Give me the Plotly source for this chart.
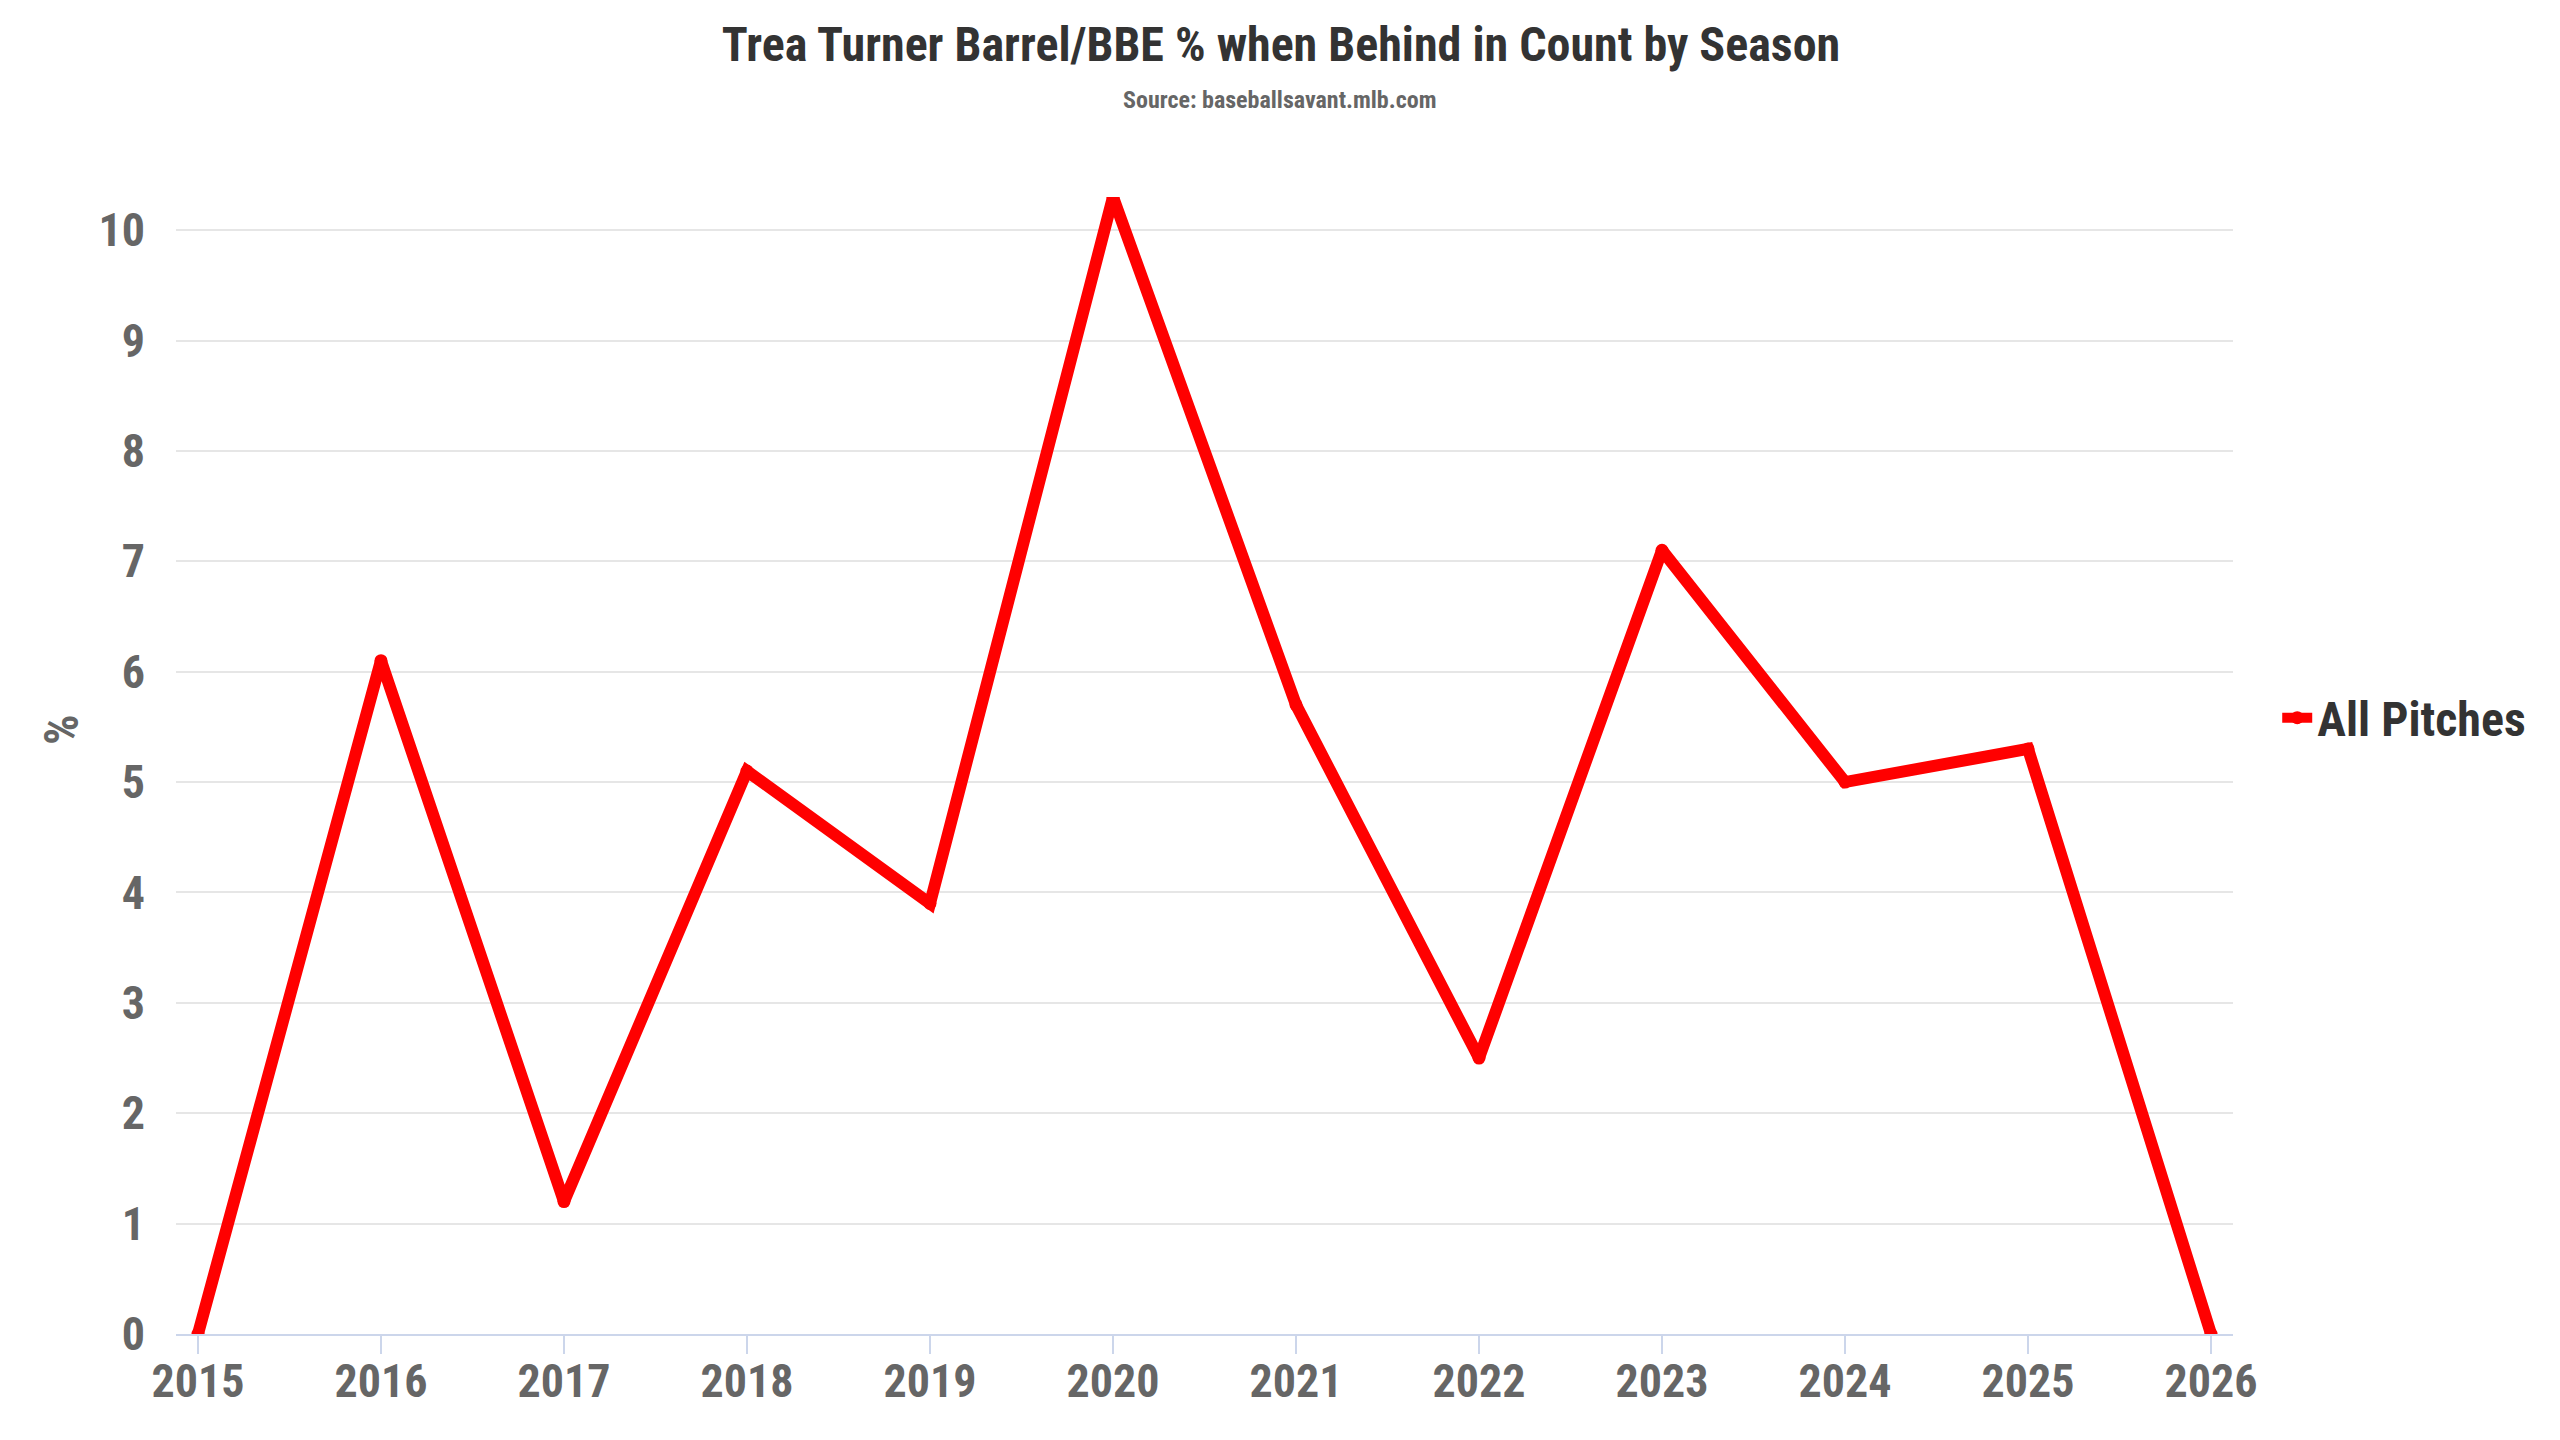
import plotly.graph_objects as go

seasons = [2015, 2016, 2017, 2018, 2019, 2020, 2021, 2022, 2023, 2024, 2025, 2026]
barrel_pct = [0, 6.1, 1.2, 5.1, 3.9, 10.3, 5.7, 2.5, 7.1, 5.0, 5.3, 0]
series_name = "All Pitches"
y_ticks = [0, 1, 2, 3, 4, 5, 6, 7, 8, 9, 10]

FONT = "Roboto Condensed, Liberation Sans Narrow, Roboto, sans-serif"

L, T, PW, PH = 168, 189, 2057, 1137
B = 1440 - T - PH
R = 2560 - L - PW
BOTTOM = T + PH

fig = go.Figure()
fig.add_trace(go.Scatter(
    x=seasons, y=barrel_pct, name=series_name, mode="lines+markers",
    line=dict(color="#ff0000", width=12),
    marker=dict(color="#ff0000", size=13),
))

fig.update_layout(
    width=2560, height=1440,
    paper_bgcolor="white", plot_bgcolor="white",
    margin=dict(l=L, r=R, t=T, b=B),
    font=dict(family=FONT, color="#666666"),
    title=dict(
        text="Trea Turner Barrel/BBE % when Behind in Count by Season",
        x=1273 / 2560, xref="container", xanchor="center",
        y=1 - 36 / 1440, yref="container", yanchor="middle",
        font=dict(family=FONT, size=48, color="#333333", weight="bold"),
    ),
    showlegend=True,
    legend=dict(
        x=1.0215, xanchor="left", y=(BOTTOM - 710) / PH, yanchor="middle",
        font=dict(family=FONT, size=48, color="#333333", weight="bold"),
        bgcolor="rgba(0,0,0,0)", itemwidth=30,
    ),
    xaxis=dict(
        range=[2014.88, 2026.12],
        tickmode="array", tickvals=seasons, ticktext=[str(s) for s in seasons],
        showgrid=False, zeroline=False,
        showline=True, linecolor="#ccd6eb", linewidth=2,
        ticks="outside", ticklen=18, tickwidth=2, tickcolor="#ccd6eb",
        ticklabelstandoff=-12,
        tickfont=dict(family=FONT, size=46, color="#666666", weight="bold"),
    ),
    yaxis=dict(
        range=[0, 10.3],
        tickmode="array", tickvals=y_ticks,
        showgrid=True, gridcolor="#e6e6e6", gridwidth=2,
        zeroline=False, showline=False,
        ticklabelstandoff=30,
        tickfont=dict(family=FONT, size=46, color="#666666", weight="bold"),
    ),
    annotations=[
        dict(text="Source: baseballsavant.mlb.com", xref="paper", yref="paper",
             x=(1271 - L) / PW, y=(BOTTOM - 92) / PH, xanchor="center", yanchor="middle",
             showarrow=False,
             font=dict(family=FONT, size=24, color="#666666", weight="bold")),
        dict(text="%", xref="paper", yref="paper",
             x=(54 - L) / PW, y=(BOTTOM - 722) / PH,
             xanchor="center", yanchor="middle", textangle=-90, showarrow=False,
             font=dict(family=FONT, size=48, color="#666666", weight="bold")),
    ],
)

fig.write_html("out.html")
